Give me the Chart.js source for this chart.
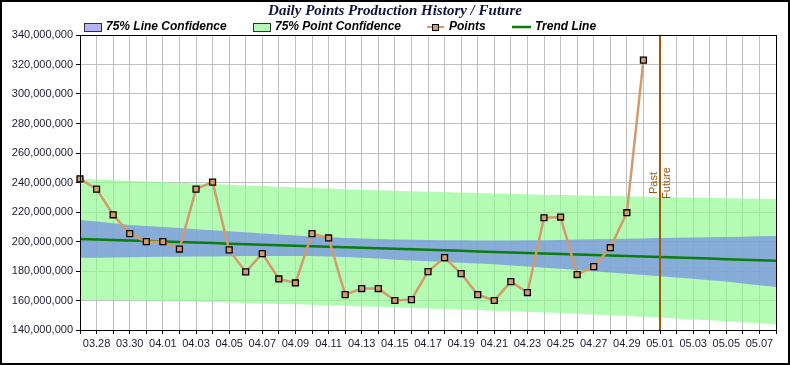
<!DOCTYPE html>
<html>
<head>
<meta charset="utf-8">
<script src="https://cdn.jsdelivr.net/npm/chart.js@4.4.1/dist/chart.umd.min.js"></script>
<style>
  html, body { margin: 0; padding: 0; background: #fff; }
  #wrap { width: 790px; height: 365px; position: relative; }
</style>
</head>
<body>
<div id="wrap"><canvas id="chart"></canvas></div>
<script>
// Data (values in millions)
const days = [
  "03.27", "03.28", "03.29", "03.30", "03.31",
  "04.01", "04.02", "04.03", "04.04", "04.05", "04.06", "04.07", "04.08", "04.09", "04.10",
  "04.11", "04.12", "04.13", "04.14", "04.15", "04.16", "04.17", "04.18", "04.19", "04.20",
  "04.21", "04.22", "04.23", "04.24", "04.25", "04.26", "04.27", "04.28", "04.29", "04.30",
  "05.01", "05.02", "05.03", "05.04", "05.05", "05.06", "05.07", "05.08"
];
const splitDay = "05.01";

const points = [
  242.5, 235.5, 218.1, 205.3, 199.9, 199.9, 194.9, 235.5, 240.3, 194.3,
  179.4, 191.8, 174.6, 171.9, 205.3, 202.4, 164.0, 168.1, 168.1, 160.0,
  160.6, 179.6, 189.1, 178.2, 164.0, 160.0, 172.8, 165.4, 216.1, 216.6,
  177.6, 183.0, 195.8, 219.5, 323.0
];

const trend = [
  201.7, 201.35, 201.0, 200.65, 200.3, 199.95, 199.6, 199.25, 198.9, 198.55,
  198.2, 197.85, 197.5, 197.15, 196.8, 196.45, 196.1, 195.75, 195.4, 195.05,
  194.7, 194.35, 194.0, 193.65, 193.3, 192.95, 192.6, 192.25, 191.9, 191.55,
  191.2, 190.85, 190.5, 190.15, 189.8, 189.45, 189.1, 188.75, 188.4, 188.05,
  187.7, 187.35, 187.0
];

const lineHi = [
  214.6, 213.5, 212.3, 211.2, 210.5, 209.8, 209.1, 208.3, 207.6, 206.9,
  206.2, 205.5, 204.8, 204.1, 203.4, 202.9, 202.4, 202.0, 201.7, 201.4,
  201.2, 201.0, 200.9, 200.8, 200.7, 200.7, 200.7, 200.8, 200.9, 201.1,
  201.3, 201.5, 201.7, 201.9, 202.1, 202.3, 202.5, 202.7, 202.9, 203.1,
  203.3, 203.5, 203.7
];
const lineLo = [
  189.0, 189.0, 189.1, 189.3, 189.5, 189.6, 189.7, 189.8, 189.9, 190.0,
  190.1, 190.2, 190.2, 190.2, 190.1, 189.9, 189.5, 189.0, 188.4, 187.7,
  187.1, 186.6, 186.1, 185.6, 185.1, 184.5, 183.8, 183.0, 182.2, 181.5,
  180.7, 179.9, 179.0, 178.2, 177.3, 176.5, 175.6, 174.7, 173.8, 172.8,
  171.6, 170.4, 169.2
];

const pointHi = [
  242.4, 242.0, 241.6, 241.2, 240.7, 240.3, 239.8, 239.4, 238.9, 238.5,
  238.0, 237.6, 237.1, 236.7, 236.3, 235.9, 235.5, 235.1, 234.8, 234.4,
  234.1, 233.8, 233.5, 233.2, 232.9, 232.6, 232.3, 232.0, 231.7, 231.5,
  231.3, 231.0, 230.8, 230.6, 230.4, 230.2, 230.0, 229.8, 229.6, 229.4,
  229.2, 229.0, 228.8
];
const pointLo = [
  160.4, 160.3, 160.2, 160.0, 159.9, 159.7, 159.5, 159.2, 158.9, 158.6,
  158.3, 158.0, 157.7, 157.4, 157.1, 156.7, 156.4, 156.0, 155.7, 155.3,
  155.0, 154.6, 154.3, 153.9, 153.5, 153.1, 152.7, 152.3, 151.9, 151.5,
  151.0, 150.5, 150.0, 149.5, 149.0, 148.4, 147.8, 147.2, 146.6, 145.9,
  145.2, 144.5, 143.7
];

const yMin = 140, yMax = 340, yStep = 20;

const M = v => v * 1e6;

const tan = "#d39a6c";
const trendGreen = "#0a7d0a";
const splitBrown = "#a0580a";
const tickFont = { family: "'Liberation Sans', Arial, sans-serif", size: 11 };
const tickColor = "#1c1c34";

// Title, legend, past/future marker and borders
const decor = {
  id: "decor",
  afterDatasetsDraw(chart) {
    const { ctx, chartArea: a, scales: { x } } = chart;
    const px = Math.round(x.getPixelForValue(days.indexOf(splitDay)));
    ctx.save();
    ctx.strokeStyle = splitBrown;
    ctx.lineWidth = 2;
    ctx.beginPath();
    ctx.moveTo(px, a.top);
    ctx.lineTo(px, a.bottom);
    ctx.stroke();

    ctx.fillStyle = splitBrown;
    ctx.font = "11px 'Liberation Sans', Arial, sans-serif";
    ctx.textAlign = "center";
    ctx.textBaseline = "middle";
    ctx.translate(px, 183);
    ctx.rotate(-Math.PI / 2);
    ctx.fillText("Past", 0, -6);
    ctx.fillText("Future", 0, 7);
    ctx.restore();

    ctx.save();
    ctx.strokeStyle = "#000";
    ctx.lineWidth = 1;
    ctx.strokeRect(a.left + 0.5, a.top + 0.5, a.right - a.left, a.bottom - a.top);
    ctx.restore();
  },
  afterDraw(chart) {
    const ctx = chart.ctx;
    ctx.save();
    // title
    ctx.fillStyle = "#12123a";
    ctx.font = "italic bold 15px 'Liberation Serif', 'Times New Roman', serif";
    ctx.textAlign = "center";
    ctx.textBaseline = "middle";
    ctx.fillText("Daily Points Production History / Future", 395, 11);

    // legend
    const ly = 27;
    ctx.font = "italic bold 12px 'Liberation Sans', Arial, sans-serif";
    ctx.textAlign = "left";
    ctx.lineWidth = 1;

    ctx.fillStyle = "#b4b4f4";
    ctx.fillRect(84, 23, 17, 8);
    ctx.strokeStyle = "#333";
    ctx.strokeRect(84.5, 23.5, 17, 8);
    ctx.fillStyle = "#000";
    ctx.fillText("75% Line Confidence", 106, ly);

    ctx.fillStyle = "#b4f8b4";
    ctx.fillRect(253, 23, 17, 8);
    ctx.strokeRect(253.5, 23.5, 17, 8);
    ctx.fillStyle = "#000";
    ctx.fillText("75% Point Confidence", 275, ly);

    ctx.strokeStyle = tan;
    ctx.lineWidth = 2;
    ctx.beginPath();
    ctx.moveTo(427, ly);
    ctx.lineTo(444, ly);
    ctx.stroke();
    ctx.fillStyle = tan;
    ctx.fillRect(432, ly - 3, 6, 6);
    ctx.strokeStyle = "#000";
    ctx.lineWidth = 1;
    ctx.strokeRect(432.5, ly - 2.5, 6, 6);
    ctx.fillStyle = "#000";
    ctx.fillText("Points", 449, ly);

    ctx.strokeStyle = trendGreen;
    ctx.lineWidth = 2.5;
    ctx.beginPath();
    ctx.moveTo(512, ly);
    ctx.lineTo(531, ly);
    ctx.stroke();
    ctx.fillStyle = "#000";
    ctx.fillText("Trend Line", 535, ly);

    // outer frame
    ctx.strokeStyle = "#000";
    ctx.lineWidth = 2;
    ctx.strokeRect(1, 1, chart.width - 2, chart.height - 2);
    ctx.restore();
  }
};

new Chart(document.getElementById("chart"), {
  type: "line",
  data: {
    labels: days,
    datasets: [
      {
        label: "Points",
        data: points.map(M),
        borderColor: tan,
        borderWidth: 2.5,
        pointStyle: "rect",
        pointRadius: 4.2,
        pointBackgroundColor: tan,
        pointBorderColor: "#000",
        pointBorderWidth: 1.3,
        fill: false,
        order: 1
      },
      {
        label: "Trend Line",
        data: trend.map(M),
        borderColor: trendGreen,
        borderWidth: 2.5,
        pointRadius: 0,
        fill: false,
        order: 2
      },
      {
        label: "75% Line Confidence",
        data: lineHi.map(M),
        borderWidth: 0,
        pointRadius: 0,
        backgroundColor: "rgba(120,146,228,0.75)",
        fill: "+1",
        order: 3
      },
      {
        label: "line lo",
        data: lineLo.map(M),
        borderWidth: 0,
        pointRadius: 0,
        fill: false,
        order: 3
      },
      {
        label: "75% Point Confidence",
        data: pointHi.map(M),
        borderWidth: 0,
        pointRadius: 0,
        backgroundColor: "rgba(145,249,145,0.68)",
        fill: "+1",
        order: 4
      },
      {
        label: "point lo",
        data: pointLo.map(M),
        borderWidth: 0,
        pointRadius: 0,
        fill: false,
        order: 4
      }
    ]
  },
  options: {
    responsive: true,
    maintainAspectRatio: false,
    devicePixelRatio: 1,
    animation: false,
    elements: { line: { tension: 0 } },
    layout: { padding: { top: 35, right: 14, left: 0, bottom: 0 } },
    plugins: {
      legend: { display: false },
      title: { display: false },
      tooltip: { enabled: false }
    },
    scales: {
      x: {
        offset: false,
        grid: { color: "#c0c0c0", tickColor: "#000", tickLength: 4, lineWidth: 1 },
        border: { color: "#000", width: 1 },
        ticks: {
          autoSkip: false,
          maxRotation: 0,
          minRotation: 0,
          padding: 3,
          font: tickFont,
          color: tickColor,
          callback: (v, i) => (i % 2 === 1 ? days[i] : "")
        },
        afterFit: s => { s.height = 35; }
      },
      y: {
        min: M(yMin),
        max: M(yMax),
        grid: { color: "#c0c0c0", tickColor: "#000", tickLength: 4, lineWidth: 1 },
        border: { color: "#000", width: 1 },
        ticks: {
          stepSize: M(yStep),
          padding: 3,
          font: tickFont,
          color: tickColor,
          callback: v => Number(v).toLocaleString("en-US")
        },
        afterFit: s => { s.width = 80; }
      }
    }
  },
  plugins: [decor]
});
</script>
</body>
</html>
